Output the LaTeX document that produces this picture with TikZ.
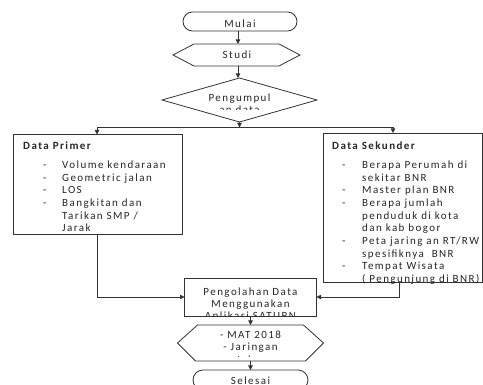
\documentclass[tikz,border=0pt]{standalone}
\usepackage{fontspec}
\setmainfont{Carlito}[LetterSpace=13.0]
\usetikzlibrary{arrows.meta,shapes.misc}
\begin{document}
\begin{tikzpicture}[x=1pt,y=-1pt,
  line/.style={draw=black!80, line width=0.8pt},
  arr/.style={line, -{Triangle[length=4.5pt,width=4.5pt]}},
  txt/.style={font=\fontsize{11}{12.7}\selectfont, inner sep=0pt, text=black!85},
  ghost/.style={draw=none, inner sep=0pt, outer sep=0pt},
  term/.style={rounded rectangle, line, inner sep=0pt, outer sep=0pt},
  boxd/.style={rectangle, line, inner sep=0pt, outer sep=0pt},
  lt/.style={txt, anchor=mid west},
  ct/.style={txt, anchor=mid}]
\useasboundingbox (0,0) rectangle (483,385);
\fill[white] (0,0) rectangle (483,385);
\clip (0,0) rectangle (483,385);

% Mulai
\node[term, minimum width=114pt, minimum height=19pt] (mulai) at (240,21.5) {};
\node[ct] (mulait) at (240,25) {Mulai};

% Studi (hexagon)
\node[ghost, minimum width=127pt, minimum height=22pt] (studi) at (236.5,55) {};
\draw[line] (studi.west) -- ([xshift=21pt]studi.north west) -- ([xshift=-21pt]studi.north east)
  -- (studi.east) -- ([xshift=-21pt]studi.south east) -- ([xshift=21pt]studi.south west) -- cycle;
\node[ct] (studit) at (237,56.5) {Studi};

% Pengumpulan data (diamond)
\node[ghost, minimum width=155pt, minimum height=44pt] (peng) at (239.5,100) {};
\draw[line] (peng.west) -- (peng.north) -- (peng.east) -- (peng.south) -- cycle;
\begin{scope}
  \clip (160,78) rectangle (320,109.5);
  \node[ct] (pengt1) at (239.5,99) {Pengumpul};
  \node[ct] (pengt2) at (239.5,111.5) {an data};
\end{scope}

% Data Primer box
\node[boxd, minimum width=169pt, minimum height=100pt] (primer) at (97.5,184.5) {};
\node[lt, font=\fontsize{11}{12.7}\selectfont\bfseries] (ptitle) at (23,147) {Data Primer};
\node[lt] (pd1) at (43,166) {-};
\node[lt] (pd2) at (43,178.7) {-};
\node[lt] (pd3) at (43,191.4) {-};
\node[lt] (pd4) at (43,204.1) {-};
\node[lt] (p1) at (62,166) {Volume kendaraan};
\node[lt] (p2) at (62,178.7) {Geometric jalan};
\node[lt] (p3) at (62,191.4) {LOS};
\node[lt] (p4) at (62,204.1) {Bangkitan dan};
\node[lt] (p5) at (62,216.8) {Tarikan SMP /};
\node[lt] (p6) at (62,229.5) {Jarak};

% Data Sekunder box
\node[boxd, minimum width=159pt, minimum height=149.5pt] (sek) at (402.5,207.75) {};
\node[lt, font=\fontsize{11}{12.7}\selectfont\bfseries] (stitle) at (332,147) {Data Sekunder};
\node[lt] (sd1) at (342,166) {-};
\node[lt] (sd2) at (342,191.4) {-};
\node[lt] (sd3) at (342,204.1) {-};
\node[lt] (sd4) at (342,242.2) {-};
\node[lt] (sd5) at (342,267.6) {-};
\node[lt] (s1) at (362,166) {Berapa Perumah di};
\node[lt] (s2) at (362,178.7) {sekitar BNR};
\node[lt] (s3) at (362,191.4) {Master plan BNR};
\node[lt] (s4) at (362,204.1) {Berapa jumlah};
\node[lt] (s5) at (362,216.8) {penduduk di kota};
\node[lt] (s6) at (362,229.5) {dan kab bogor};
\node[lt] (s7) at (362,242.2) {Peta jaring an RT/RW};
\node[lt] (s8) at (362,254.9) {spesifiknya\ \ BNR};
\node[lt] (s9) at (362,267.6) {Tempat Wisata};
\node[lt] (s10) at (362,280.3) {( Pengunjung di BNR)};

% Pengolahan box
\node[boxd, minimum width=132pt, minimum height=38pt] (olah) at (250.5,297) {};
\begin{scope}
  \clip (185,278) rectangle (317,315.5);
  \node[ct] (o1) at (250.5,293) {Pengolahan Data};
  \node[ct] (o2) at (250.5,305.5) {Menggunakan};
  \node[ct] (o3) at (250.5,317.5) {Aplikasi SATURN};
\end{scope}

% MAT hexagon
\node[ghost, minimum width=146pt, minimum height=36pt] (mat) at (250.5,343) {};
\draw[line] (mat.west) -- ([xshift=20pt]mat.north west) -- ([xshift=-20pt]mat.north east)
  -- (mat.east) -- ([xshift=-18pt]mat.south east) -- ([xshift=18pt]mat.south west) -- cycle;
\begin{scope}
  \clip (177,325) rectangle (323,356.5);
  \node[ct] (m1) at (250.5,336) {- MAT 2018};
  \node[ct] (m2) at (250.5,348.5) {- Jaringan};
  \node[ct] (m3) at (250.5,361) {Jalan};
\end{scope}

% Selesai
\node[term, minimum width=115pt, minimum height=20pt] (selesai) at (250.5,380) {};
\node[ct] (selesait) at (250.5,382) {Selesai};

% connectors
\coordinate (split) at (239.5,127.5);
\coordinate (sL) at (97,127.5);
\coordinate (sR) at (393,127.5);
\draw[arr] (mulai.south -| 238,0) -- (238,0 |- studi.north);
\draw[arr] (238,0 |- studi.south) -- (238,0 |- peng.north);
\draw[arr] (peng.south) -- (split);
\draw[line] (sL) -- (sR);
\draw[arr] (sL) -- (sL |- primer.north);
\draw[arr] (sR) -- (sR |- sek.north);
\draw[arr] (primer.south -| sL) |- (olah.west);
\draw[arr] ([xshift=-3.5pt]sek.south) |- (olah.east);
\draw[arr] (olah.south) -- (mat.north);
\draw[arr] (mat.south) -- (selesai.north);
\end{tikzpicture}
\end{document}
